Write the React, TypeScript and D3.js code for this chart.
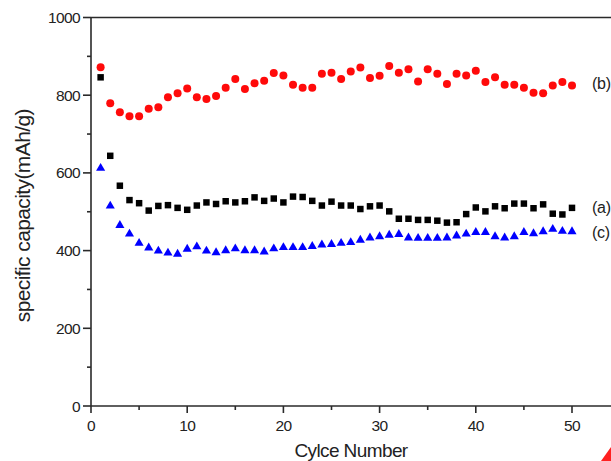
import React from "react";
import * as d3 from "d3";

const cycles: number[] = d3.range(1, 51);

const seriesB: number[] = [872,779,756,746,746,765,769,795,805,817,795,790,798,819,842,816,831,837,857,851,827,819,819,855,858,842,861,871,844,850,875,858,867,835,867,855,829,855,851,863,834,846,827,827,819,806,805,825,834,825];
const seriesA: number[] = [846,644,567,530,522,503,515,517,510,505,516,524,520,527,524,527,537,528,534,524,539,538,528,516,526,516,516,507,514,516,501,482,482,479,479,477,472,473,494,511,501,514,509,521,521,509,519,495,493,510];
const seriesC: number[] = [612,515,465,443,419,407,399,394,391,404,410,399,395,400,405,400,400,397,405,408,408,408,411,415,416,419,421,427,433,436,440,442,433,432,432,432,433,438,443,447,447,436,433,436,447,444,449,455,450,449];

const xMajorTicks: number[] = [0, 10, 20, 30, 40, 50];
const xMinorTicks: number[] = [5, 15, 25, 35, 45];
const yMajorTicks: number[] = [0, 200, 400, 600, 800, 1000];
const yMinorTicks: number[] = [100, 300, 500, 700, 900];

const seriesLabels: string[] = ["(b)", "(a)", "(c)"];

export default function App() {
  const W = 611, H = 461;
  const x = d3.scaleLinear().domain([0, 50]).range([91, 572]);
  const y = d3.scaleLinear().domain([0, 1000]).range([406, 17.5]);
  const axisColor = "#2a2a2a";
  const font = "'Liberation Sans', Arial, sans-serif";
  const sq = d3.symbol().type(d3.symbolSquare).size(42)();
  const tri = d3.symbol().type(d3.symbolTriangle).size(36)();
  const labelY = [83, 207, 232];

  return (
    <svg width={W} height={H} style={{ position: "absolute", left: 0, top: 0, background: "#fff" }} fontFamily={font}>
      <rect width={W} height={H} fill="#fff" />
      <line x1={x(0)} x2={W} y1={y(0)} y2={y(0)} stroke={axisColor} strokeWidth={1.6} />
      <line x1={x(0)} x2={x(0)} y1={y(0)} y2={y(1000)} stroke={axisColor} strokeWidth={1.6} />
      <line x1={x(0)} x2={W} y1={y(1000)} y2={y(1000)} stroke={axisColor} strokeWidth={1.6} />
      {xMajorTicks.map((t) => (
        <g key={"xm" + t}>
          <line x1={x(t)} x2={x(t)} y1={y(0)} y2={y(0) + 7} stroke={axisColor} strokeWidth={1.6} />
          <text x={x(t)} y={431} textAnchor="middle" fontSize={15.5} letterSpacing={-0.6} fill="#222">{t}</text>
        </g>
      ))}
      {xMinorTicks.map((t) => (
        <line key={"xn" + t} x1={x(t)} x2={x(t)} y1={y(0)} y2={y(0) + 4} stroke={axisColor} strokeWidth={1.6} />
      ))}
      {yMajorTicks.map((t) => (
        <g key={"ym" + t}>
          <line x1={x(0) - 8} x2={x(0)} y1={y(t)} y2={y(t)} stroke={axisColor} strokeWidth={1.6} />
          <text x={x(0) - 11} y={y(t) + 5.5} textAnchor="end" fontSize={15.5} letterSpacing={-0.6} fill="#222">{t}</text>
        </g>
      ))}
      {yMinorTicks.map((t) => (
        <line key={"yn" + t} x1={x(0) - 4} x2={x(0)} y1={y(t)} y2={y(t)} stroke={axisColor} strokeWidth={1.6} />
      ))}
      <text x={351} y={457} textAnchor="middle" fontSize={19} letterSpacing={-0.6} fill="#222">Cylce Number</text>
      <text transform={`translate(30, ${y(490)}) rotate(-90)`} textAnchor="middle" fontSize={21} letterSpacing={-0.6} fill="#222">specific capacity(mAh/g)</text>
      {cycles.map((c, i) => (
        <circle key={"b" + c} cx={x(c)} cy={y(seriesB[i])} r={4} fill="#ff0a0a" />
      ))}
      {cycles.map((c, i) => (
        <path key={"a" + c} d={sq || ""} transform={`translate(${x(c)},${y(seriesA[i])})`} fill="#000" />
      ))}
      {cycles.map((c, i) => (
        <path key={"c" + c} d={tri || ""} transform={`translate(${x(c)},${y(seriesC[i])})`} fill="#0000ff" />
      ))}
      {seriesLabels.map((l, i) => (
        <text key={l} x={592} y={labelY[i] + 5.5} fontSize={16} letterSpacing={-0.3} fill="#222">{l}</text>
      ))}
      <polygon points={`${W},447 ${W},${H} ${W - 10},${H}`} fill="#ff2020" />
    </svg>
  );
}
